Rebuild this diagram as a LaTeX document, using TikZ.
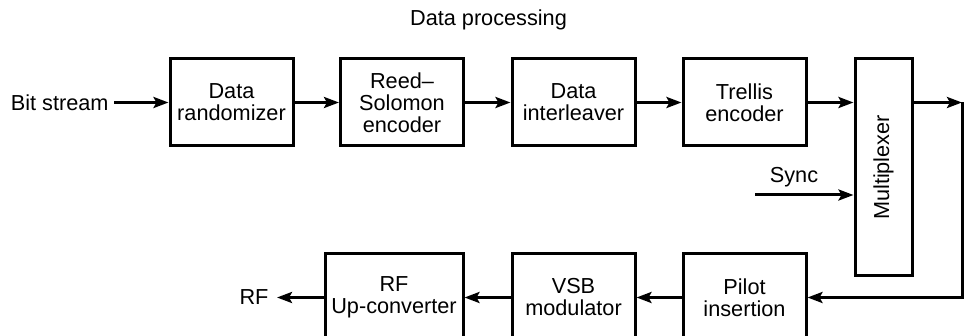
\documentclass[tikz,border=0pt]{standalone}
\usepackage{fontspec}
\setmainfont{Liberation Sans}
\usetikzlibrary{arrows.meta}

\begin{document}
\begin{tikzpicture}[
  x=0.5pt, y=-0.5pt,
  font=\fontsize{10.85}{11}\selectfont,
  line width=1.5pt,
  block/.style={draw, rectangle, align=center, inner sep=0pt,
                minimum width=61.5pt, minimum height=43.5pt},
  flow/.style={-{Stealth[length=7.5pt,width=5.5pt,inset=1.5pt]}},
  plain/.style={inner sep=2pt}
]
\useasboundingbox (0,0) rectangle (965,336);

% title
\node[plain] (title) at (488.5,20) {Data processing};

% data processing chain
\node[block] (rand) at (231.5,102.5) {Data\\randomizer};
\node[block] (rs)   at (402,102.5)   {Reed--\\Solomon\\encoder};
\node[block] (il)   at (573.5,102.5) {Data\\interleaver};
\node[block] (tr)   at (744.5,102.5) {Trellis\\encoder};
\node[draw, rectangle, inner sep=0pt, minimum width=28.5pt, minimum height=108.5pt]
  (mux) at (883.5,167.5) {};
\node[rotate=90, inner sep=0pt] (muxlabel) at (mux.center) {Multiplexer};

% transmitter chain
\node[block] (pilot) at (744.5,297.5) {Pilot\\insertion};
\node[block] (vsb)   at (573.5,297.5) {VSB\\modulator};
\node[block, minimum width=69pt] (rfup) at (394,297.5) {RF\\Up-converter};

% inputs and outputs
\node[plain, anchor=east] (bits) at (114,102.5) {Bit stream};
\node[inner sep=0pt] (rf) at (254,297.5) {RF};
\coordinate (rftip) at (277,297.5);
\node[plain] (sync) at (794,177) {Sync};
\coordinate (syncin) at (755,195);
\coordinate (outR) at (962,102.5);

% connectors
\draw[flow] (bits.east) -- (rand.west);
\draw[flow] (rand) -- (rs);
\draw[flow] (rs) -- (il);
\draw[flow] (il) -- (tr);
\draw[flow] (tr.east) -- (tr.east -| mux.west);
\draw[flow] (syncin) -- (syncin -| mux.west);
\draw[flow] (tr.east -| mux.east) -- (outR);
\draw[flow] (outR) -- (outR |- pilot.east) -- (pilot.east);
\draw[flow] (pilot) -- (vsb);
\draw[flow] (vsb) -- (rfup);
\draw[flow] (rfup.west) -- (rftip);
\end{tikzpicture}
\end{document}
